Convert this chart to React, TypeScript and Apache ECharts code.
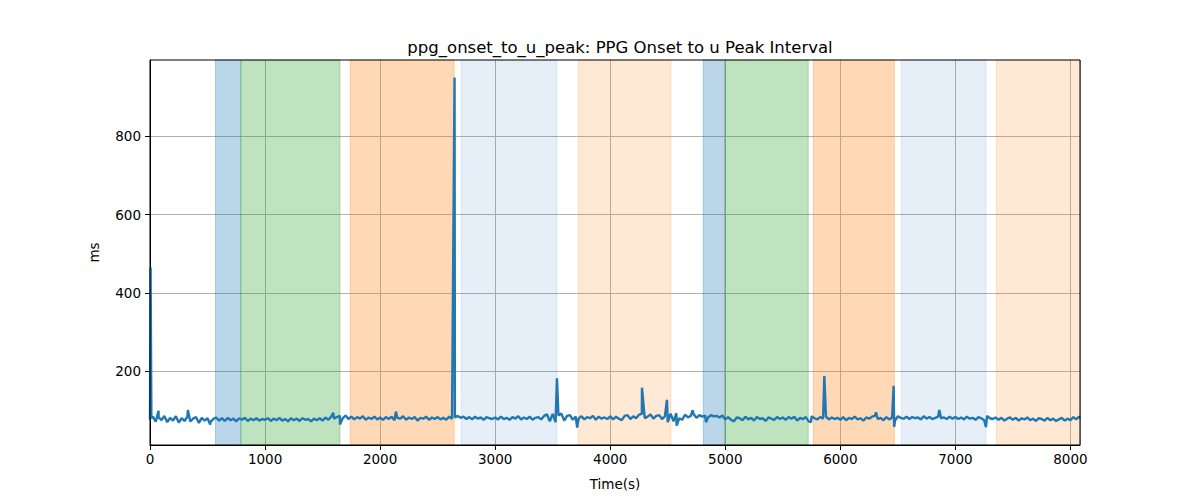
import React, { useEffect, useRef } from "react";
import * as echarts from "echarts";

// Sampling step of the baseline record (seconds)
const STEP = 25;

// Baseline PPG onset -> u peak interval (ms), one value every STEP seconds starting at t=0
const baseline: number[] = [
  // 0 - 475
  76, 84, 71, 82, 75, 86, 70, 81, 74, 85, 69, 80, 73, 84, 72, 79, 83, 68, 81, 74,
  // 500 - 975
  80, 70, 78, 82, 74, 80, 73, 81, 75, 79, 72, 80, 76, 81, 73, 79, 75, 80, 74, 78,
  // 1000 - 1475
  76, 80, 73, 79, 75, 81, 74, 78, 72, 80, 75, 79, 73, 80, 76, 78, 72, 79, 75, 80,
  // 1500 - 1975
  74, 82, 76, 84, 79, 83, 86, 80, 87, 78, 84, 77, 83, 79, 85, 76, 82, 78, 84, 77,
  // 2000 - 2475
  82, 76, 83, 78, 84, 75, 81, 79, 85, 76, 82, 78, 83, 74, 81, 79, 84, 76, 82, 78,
  // 2500 - 2975
  83, 77, 81, 76, 84, 79, 82, 86, 81, 84, 78, 83, 77, 84, 79, 82, 76, 83, 80, 78,
  // 3000 - 3475
  82, 77, 84, 78, 81, 76, 83, 79, 85, 77, 82, 78, 84, 76, 81, 83, 77, 86, 90, 72,
  // 3500 - 3975
  91, 70, 87, 92, 74, 86, 88, 76, 84, 79, 85, 77, 83, 80, 86, 76, 84, 79, 82, 78,
  // 4000 - 4475
  85, 77, 84, 79, 75, 86, 88, 78, 85, 80, 89, 91, 80, 84, 90, 79, 86, 88, 78, 85,
  // 4500 - 4975
  70, 92, 72, 93, 80, 76, 89, 82, 86, 90, 81, 88, 84, 87, 82, 88, 85, 86, 82, 87,
  // 5000 - 5475
  77, 83, 76, 72, 82, 80, 75, 84, 77, 81, 74, 83, 78, 80, 73, 82, 79, 76, 83, 78,
  // 5500 - 5975
  82, 76, 83, 79, 84, 74, 81, 78, 83, 72, 85, 80, 77, 83, 79, 84, 77, 82, 78, 81,
  // 6000 - 6475
  76, 83, 75, 81, 78, 84, 77, 80, 74, 82, 79, 84, 86, 78, 81, 75, 83, 77, 82, 74,
  // 6500 - 6975
  85, 81, 79, 84, 78, 83, 80, 82, 77, 85, 79, 83, 78, 81, 84, 80, 82, 78, 84, 79,
  // 7000 - 7475
  83, 78, 82, 77, 84, 79, 81, 76, 83, 80, 75, 86, 80, 78, 82, 76, 81, 74, 79, 82,
  // 7500 - 7975
  76, 81, 74, 80, 77, 82, 75, 79, 73, 80, 78, 74, 81, 75, 79, 73, 77, 81, 74, 79,
  // 8000 - 8075
  75, 83, 77, 84,
];

// Isolated spikes / dips: [time (s), interval (ms)]
const events: [number, number][] = [
  [5, 465], [12, 80], [74, 99], [329, 101], [523, 64], [1592, 94], [1651, 64],
  [2137, 97], [2647, 950], [3537, 182], [3713, 56], [4276, 158], [4493, 127],
  [4577, 61], [4716, 100], [4832, 70], [5745, 70], [5861, 188], [6310, 95],
  [6463, 163], [6468, 58], [6860, 101], [7266, 57], [8083, 80],
];

// Shaded phases
const spanStarts = [569, 790, 1740, 2704, 3722, 4809, 4997, 5765, 6530, 7356];
const spanEnds = [790, 1651, 2644, 3537, 4528, 4997, 5721, 6469, 7266, 8083];
const spanKinds = ["blue", "green", "orange", "lightblue", "lightorange", "blue", "green", "orange", "lightblue", "lightorange"];

const yTicks = [200, 400, 600, 800];
const X_MIN = 0;
const X_MAX = 8083;
const Y_MIN = 11.7;
const Y_MAX = 994.4;

const kindColor: Record<string, string> = {
  blue: "rgba(31,119,180,0.3)",
  green: "rgba(44,160,44,0.3)",
  orange: "rgba(255,127,14,0.3)",
  lightblue: "rgba(65,120,200,0.13)",
  lightorange: "rgba(255,127,14,0.18)",
};

export default function App() {
  const ref = useRef<HTMLDivElement>(null);
  useEffect(() => {
    document.body.style.margin = "0";
    if (!ref.current) return;
    const chart = echarts.init(ref.current, null, { renderer: "svg" });

    const pts: [number, number][] = baseline.map((v, i) => [i * STEP, v] as [number, number]);
    const all = pts.concat(events).sort((a, b) => a[0] - b[0]);

    const areas = spanStarts.map((s, i) => [
      {
        xAxis: s,
        itemStyle: {
          color: kindColor[spanKinds[i]],
          borderColor: kindColor[spanKinds[i]],
          borderWidth: 1,
        },
      },
      { xAxis: spanEnds[i] },
    ]);

    const font = "DejaVu Sans";
    chart.setOption({
      animation: false,
      textStyle: { fontFamily: font },
      title: {
        text: "ppg_onset_to_u_peak: PPG Onset to u Peak Interval",
        left: 615,
        textAlign: "center",
        top: 34,
        textStyle: { fontFamily: font, fontSize: 16.5, fontWeight: "normal", color: "#000" },
      },
      grid: {
        show: true,
        z: 4,
        left: 150,
        right: 120,
        top: 60,
        bottom: 55,
        containLabel: false,
        backgroundColor: "transparent",
        borderColor: "#000",
        borderWidth: 1,
      },
      xAxis: {
        type: "value",
        min: X_MIN,
        max: X_MAX,
        interval: 1000,
        z: 1,
        name: "Time(s)",
        nameLocation: "middle",
        nameGap: 32,
        nameTextStyle: { fontFamily: font, fontSize: 13.5, color: "#000" },
        axisLine: { show: true, onZero: false, lineStyle: { color: "#000", width: 1 } },
        axisTick: { show: true, inside: false, length: 5, lineStyle: { color: "#000", width: 1 } },
        axisLabel: {
          fontFamily: font,
          fontSize: 13.5,
          color: "#000",
          margin: 7,
          showMaxLabel: false,
          formatter: (v: number) => String(v),
        },
        splitLine: { show: true, lineStyle: { color: "#b0b0b0", width: 1 } },
      },
      yAxis: {
        type: "value",
        min: Y_MIN,
        max: Y_MAX,
        z: 1,
        name: "ms",
        nameLocation: "middle",
        nameGap: 49,
        nameRotate: 90,
        nameTextStyle: { fontFamily: font, fontSize: 13.5, color: "#000" },
        axisLine: { show: true, onZero: false, lineStyle: { color: "#000", width: 1 } },
        axisTick: { show: true, inside: false, length: 5, customValues: yTicks, lineStyle: { color: "#000", width: 1 } },
        axisLabel: {
          fontFamily: font,
          fontSize: 13.5,
          color: "#000",
          margin: 9,
          customValues: yTicks,
          formatter: (v: number) => String(v),
        },
        splitLine: { show: true, lineStyle: { color: "#b0b0b0", width: 1 } },
      },
      series: [
        {
          type: "line",
          z: 0,
          data: [],
          silent: true,
          markArea: { silent: true, data: areas },
        },
        {
          type: "line",
          z: 3,
          data: all,
          showSymbol: false,
          symbol: "none",
          lineStyle: { color: "#1f77b4", width: 2.4 },
          itemStyle: { color: "#1f77b4" },
        },
      ],
    });
    return () => chart.dispose();
  }, []);
  return <div ref={ref} style={{ width: 1200, height: 500 }} />;
}
